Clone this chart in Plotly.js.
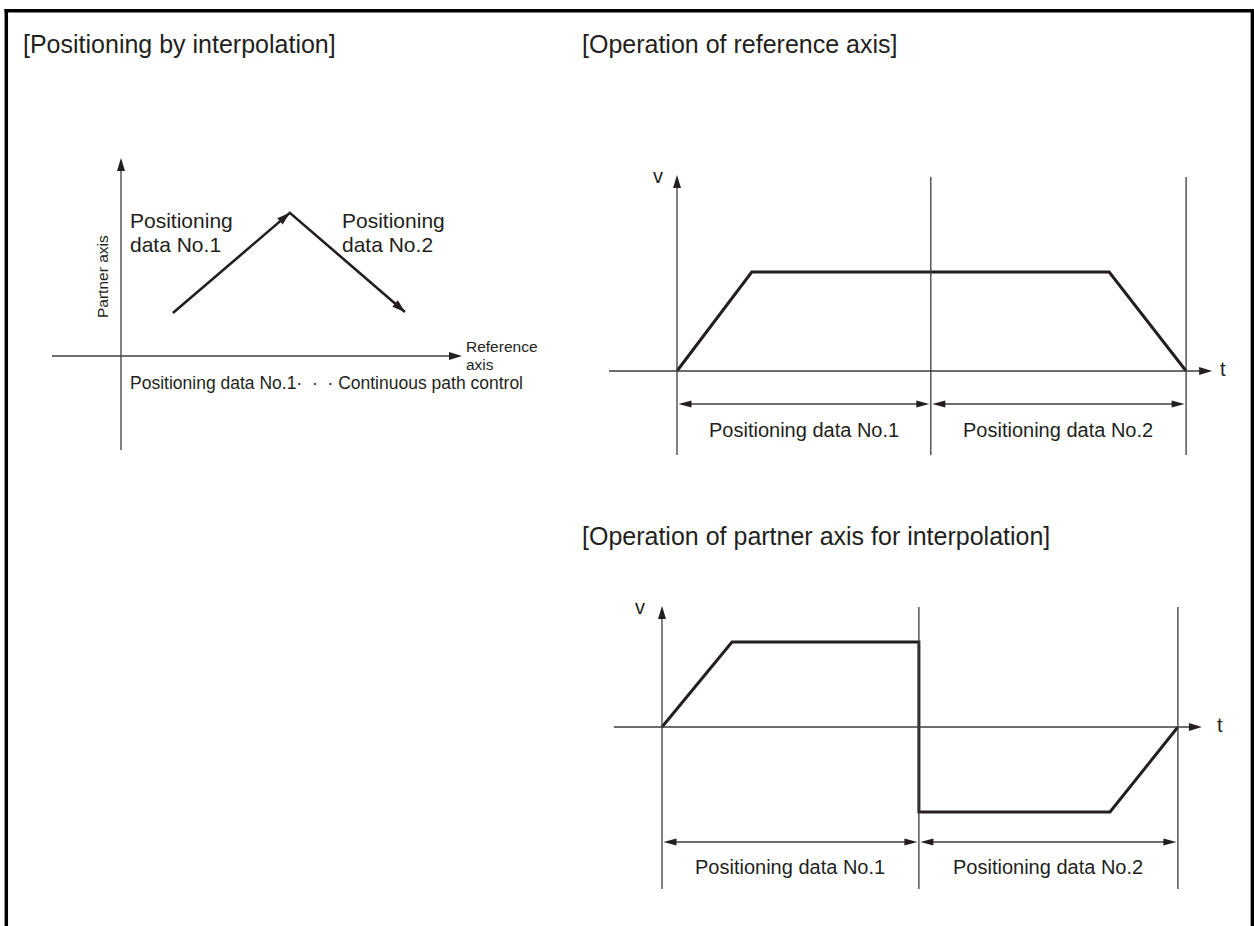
<!DOCTYPE html>
<html><head><meta charset="utf-8">
<script src="https://cdn.plot.ly/plotly-3.0.1.min.js"></script>
<style>html,body{margin:0;padding:0;background:#fff}#chart{width:1254px;height:926px}</style>
</head><body><div id="chart"></div>
<script>
// ---------------- data ----------------
// [Positioning by interpolation] : path in the reference/partner plane
const interpRefPos     = [1.33, 4.33, 7.28];
const interpPartnerPos = [1.10, 3.67, 1.13];
// [Operation of reference axis] : velocity profile
const refTime = [0, 1.01, 5.84, 6.88];
const refVel  = [0, 1, 1, 0];
const refBounds = [0, 3.43, 6.88];
// [Operation of partner axis for interpolation] : velocity profile
const partnerTime = [0, 1.0, 3.67, 3.67, 6.40, 7.37];
const partnerVel  = [0, 1, 1, -1, -1, 0];
const partnerBounds = [0, 3.67, 7.37];
// texts
const segmentLabels = ['Positioning data No.1', 'Positioning data No.2'];
const titles = ['[Positioning by interpolation]', '[Operation of reference axis]', '[Operation of partner axis for interpolation]'];

// ---------------- helpers ----------------
const W = 1254, H = 926;
const INK = '#231f20', THIN = '#3c3c3c';
const FONT = 'Liberation Sans, Arial, Helvetica, sans-serif';

function Panel(idx, box, origin, sx, sy) {
  const s = idx === 1 ? '' : String(idx);
  return {
    xr: 'x' + s, yr: 'y' + s, xa: 'xaxis' + s, ya: 'yaxis' + s,
    box, origin, sx, sy,
    px: x => origin.x + x * sx, py: y => origin.y - y * sy,
    dx: p => (p - origin.x) / sx, dy: p => (origin.y - p) / sy
  };
}
const A = Panel(1, {x0: 30, x1: 490, y0: 130, y1: 470}, {x: 121, y: 356}, 39, 39);
const B = Panel(2, {x0: 590, x1: 1245, y0: 160, y1: 470}, {x: 677, y: 371}, 74, 99);
const C = Panel(3, {x0: 590, x1: 1245, y0: 590, y1: 905}, {x: 662, y: 727}, 70, 85);

const shapes = [], annotations = [];
function line(P, x0, y0, x1, y1, w, c) {
  shapes.push({type: 'line', xref: P.xr, yref: P.yr, x0, y0, x1, y1, line: {color: c, width: w}});
}
// arrow head with tip at data point, direction (ux,uy) in page pixels (y down)
function head(P, tx, ty, ux, uy, len, hw) {
  const n = Math.hypot(ux, uy); ux /= n; uy /= n;
  const X = P.px(tx), Y = P.py(ty);
  const bx = X - ux * len, by = Y - uy * len, nx = -uy, ny = ux;
  const pts = [[X, Y], [bx + nx * hw, by + ny * hw], [bx - nx * hw, by - ny * hw]];
  shapes.push({type: 'path', xref: P.xr, yref: P.yr, fillcolor: INK, line: {width: 0},
    path: 'M' + pts.map(p => P.dx(p[0]).toFixed(4) + ',' + P.dy(p[1]).toFixed(4)).join('L') + 'Z'});
}
function T(text, x, y, size, xanchor, extra) {
  annotations.push(Object.assign({text, x: x / W, y: 1 - y / H, xref: 'paper', yref: 'paper',
    showarrow: false, xanchor: xanchor || 'left', yanchor: 'middle',
    font: {family: FONT, size, color: INK}}, extra || {}));
}
function TD(P, text, x, y, size) {
  annotations.push({text, x, y, xref: P.xr, yref: P.yr, showarrow: false,
    xanchor: 'center', yanchor: 'middle', font: {family: FONT, size, color: INK}});
}

// ---------------- frame ----------------
const fr = {color: '#000', width: 3.5};
shapes.push({type: 'line', xref: 'paper', yref: 'paper', x0: 6.3 / W, x1: 6.3 / W, y0: 1 - 9 / H, y1: 0, line: fr});
shapes.push({type: 'line', xref: 'paper', yref: 'paper', x0: 4.5 / W, x1: 1, y0: 1 - 10.7 / H, y1: 1 - 10.7 / H, line: fr});
shapes.push({type: 'line', xref: 'paper', yref: 'paper', x0: 1252.4 / W, x1: 1252.4 / W, y0: 1 - 9 / H, y1: 0, line: fr});

// ---------------- panel A ----------------
line(A, A.dx(52), 0, A.dx(462 - 12), 0, 1.3, THIN);
head(A, A.dx(462), 0, 1, 0, 13, 4);
line(A, 0, A.dy(450), 0, A.dy(158 + 12), 1.3, THIN);
head(A, 0, A.dy(158), 0, -1, 13, 4);
for (let i = 1; i < interpRefPos.length; i++) {
  const ux = A.px(interpRefPos[i]) - A.px(interpRefPos[i - 1]);
  const uy = A.py(interpPartnerPos[i]) - A.py(interpPartnerPos[i - 1]);
  head(A, interpRefPos[i], interpPartnerPos[i], ux, uy, 13, 4.2);
}
T(titles[0], 21, 44, 25);
T('Positioning', 128, 220, 21); T('data No.1', 128, 244, 21);
T('Positioning', 340, 220, 21); T('data No.2', 340, 244, 21);
T('Partner axis', 102, 276, 15.5, 'center', {textangle: -90});
T('Reference', 464, 347, 15.5); T('axis', 464, 364, 15.5);
T('Positioning data No.1\u00b7\u00a0\u00a0\u00b7\u00a0\u00a0\u00b7\u00a0Continuous path control', 128, 383, 17.5);

// ---------------- velocity panels ----------------
function velocityPanel(P, bounds, o) {
  const last = bounds[bounds.length - 1];
  const tipX = P.px(last) + o.tipExtra;
  line(P, P.dx(o.tLeft), 0, P.dx(tipX - 12), 0, 1.3, THIN);
  head(P, P.dx(tipX), 0, 1, 0, 13, 4);
  line(P, bounds[0], P.dy(o.bottom), bounds[0], P.dy(o.vTip + 12), 1.3, THIN);
  head(P, bounds[0], P.dy(o.vTip), 0, -1, 13, 4);
  for (let i = 1; i < bounds.length; i++) line(P, bounds[i], P.dy(o.bottom), bounds[i], P.dy(o.top), 1.3, THIN);
  const yd = P.dy(P.origin.y + o.dim);
  for (let i = 0; i + 1 < bounds.length; i++) {
    const l = P.px(bounds[i]) + 1.5, r = P.px(bounds[i + 1]) - 1.5;
    line(P, P.dx(l + 12), yd, P.dx(r - 12), yd, 1.3, THIN);
    head(P, P.dx(l), yd, -1, 0, 13, 3.6);
    head(P, P.dx(r), yd, 1, 0, 13, 3.6);
    TD(P, segmentLabels[i], (bounds[i] + bounds[i + 1]) / 2, P.dy(P.origin.y + o.lab), 20);
  }
  T('v', o.vLab[0], o.vLab[1], 20, 'center');
  T('t', o.tLab[0], o.tLab[1], 20, 'center');
}
velocityPanel(B, refBounds, {tLeft: 609, tipExtra: 26, bottom: 455, top: 177, vTip: 175, dim: 33, lab: 59, vLab: [658, 176], tLab: [1223, 369]});
velocityPanel(C, partnerBounds, {tLeft: 614, tipExtra: 24, bottom: 889, top: 607, vTip: 606, dim: 115, lab: 140, vLab: [640, 607], tLab: [1220, 725]});
T(titles[1], 580, 44, 25);
T(titles[2], 580, 536, 25);

// ---------------- traces ----------------
const traces = [
  {x: interpRefPos, y: interpPartnerPos, xaxis: 'x', yaxis: 'y', mode: 'lines', line: {color: INK, width: 2.6}, hoverinfo: 'skip'},
  {x: refTime, y: refVel, xaxis: 'x2', yaxis: 'y2', mode: 'lines', line: {color: INK, width: 3}, hoverinfo: 'skip'},
  {x: partnerTime, y: partnerVel, xaxis: 'x3', yaxis: 'y3', mode: 'lines', line: {color: INK, width: 3}, hoverinfo: 'skip'}
];

const layout = {
  width: W, height: H, margin: {l: 0, r: 0, t: 0, b: 0},
  paper_bgcolor: '#fff', plot_bgcolor: 'rgba(0,0,0,0)', showlegend: false,
  shapes, annotations
};
[A, B, C].forEach(P => {
  layout[P.xa] = {domain: [P.box.x0 / W, P.box.x1 / W], range: [P.dx(P.box.x0), P.dx(P.box.x1)],
    visible: false, fixedrange: true, anchor: P.yr};
  layout[P.ya] = {domain: [1 - P.box.y1 / H, 1 - P.box.y0 / H], range: [P.dy(P.box.y1), P.dy(P.box.y0)],
    visible: false, fixedrange: true, anchor: P.xr};
});
Plotly.newPlot('chart', traces, layout, {staticPlot: true, displayModeBar: false});
</script>
</body></html>
